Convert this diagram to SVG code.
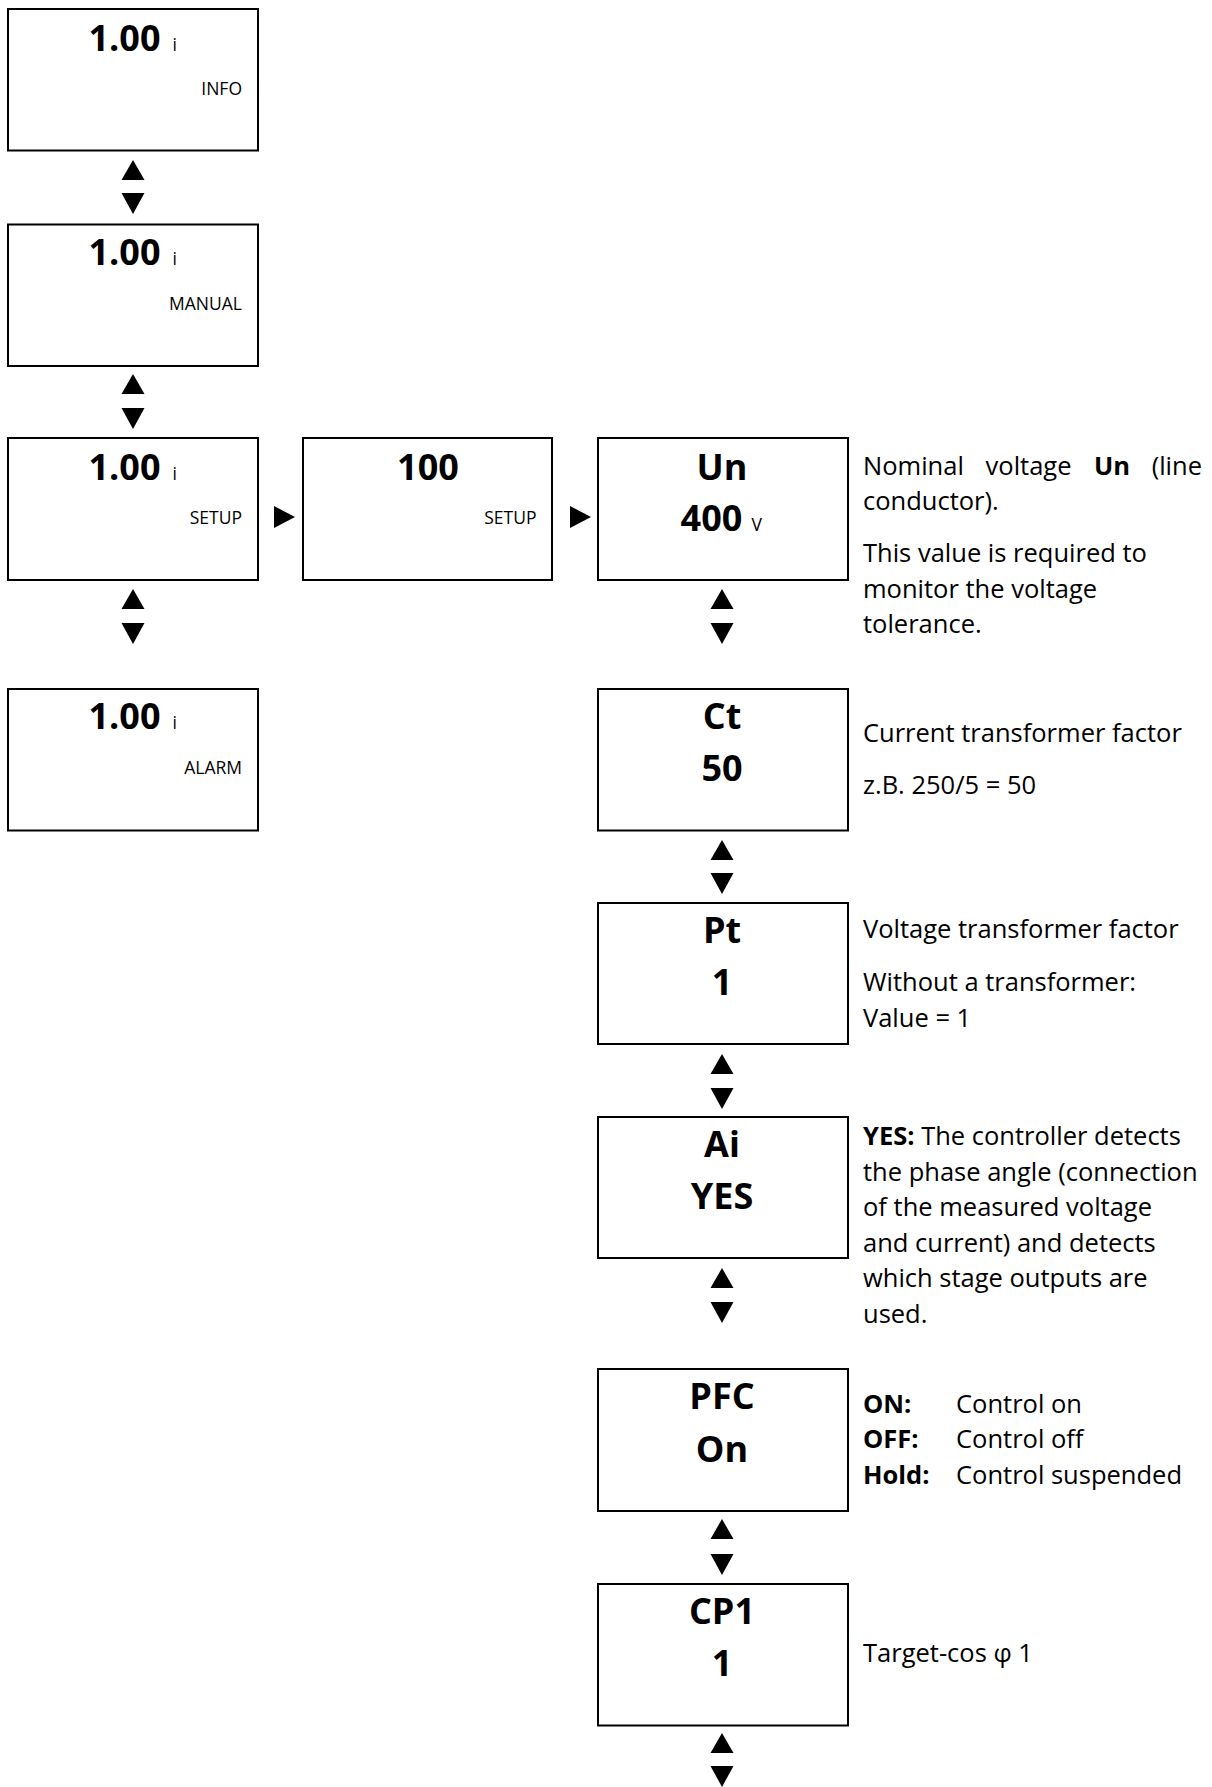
<svg xmlns="http://www.w3.org/2000/svg" width="1212" height="1787" viewBox="0 0 1212 1787">
<style>
.box{fill:#fff;stroke:#000;stroke-width:2}
text{font-family:"Open Sans","Noto Sans","DejaVu Sans",sans-serif;fill:#000}
.big{font-weight:700;font-size:36px}
.sm{font-size:17.5px}
.d{font-size:25.5px}
.b{font-weight:700}
.mid{text-anchor:middle}
.end{text-anchor:end}
.tri{fill:#000}
</style>
<defs>
<path id="up" class="tri" d="M-11.5,20 L0,0 L11.5,20 Z"/>
<path id="down" class="tri" d="M-11.5,0 L11.5,0 L0,21 Z"/>
<path id="right" class="tri" d="M0,0 L0,22 L21,11 Z"/>
</defs>
<rect width="1212" height="1787" fill="#fff"/>

<g id="connectors">
<use href="#up" x="133" y="160"/><use href="#down" x="133" y="193"/>
<use href="#up" x="133" y="374"/><use href="#down" x="133" y="408"/>
<use href="#up" x="133" y="589"/><use href="#down" x="133" y="623"/>
<use href="#right" x="274" y="506"/>
<use href="#right" x="570" y="506"/>
<use href="#up" x="722" y="589"/><use href="#down" x="722" y="623"/>
<use href="#up" x="722" y="840"/><use href="#down" x="722" y="873"/>
<use href="#up" x="722" y="1054"/><use href="#down" x="722" y="1088"/>
<use href="#up" x="722" y="1268"/><use href="#down" x="722" y="1302"/>
<use href="#up" x="722" y="1519"/><use href="#down" x="722" y="1554"/>
<use href="#up" x="722" y="1733"/><use href="#down" x="722" y="1766"/>
</g>

<g id="node-info">
<rect class="box" x="8" y="9" width="250" height="141.5"/>
<text class="big mid" x="124.5" y="50.5">1.00</text>
<text class="sm" x="172.5" y="50.5">i</text>
<text class="sm end" x="242" y="95">INFO</text>
</g>
<g id="node-manual">
<rect class="box" x="8" y="224.5" width="250" height="141.5"/>
<text class="big mid" x="124.5" y="265">1.00</text>
<text class="sm" x="172.5" y="265">i</text>
<text class="sm end" x="242" y="310">MANUAL</text>
</g>
<g id="node-setup">
<rect class="box" x="8" y="438" width="250" height="142"/>
<text class="big mid" x="124.5" y="479.5">1.00</text>
<text class="sm" x="172.5" y="479.5">i</text>
<text class="sm end" x="242" y="524">SETUP</text>
</g>
<g id="node-alarm">
<rect class="box" x="8" y="689" width="250" height="141.5"/>
<text class="big mid" x="124.5" y="729">1.00</text>
<text class="sm" x="172.5" y="729">i</text>
<text class="sm end" x="242" y="774">ALARM</text>
</g>
<g id="node-setup-100">
<rect class="box" x="303" y="438" width="249" height="142"/>
<text class="big mid" x="428" y="479.5">100</text>
<text class="sm end" x="536.5" y="524">SETUP</text>
</g>
<g id="node-un">
<rect class="box" x="598" y="438" width="250" height="142"/>
<text class="big mid" x="722" y="479.5">Un</text>
<text class="big mid" x="711.5" y="531">400</text>
<text class="sm" x="751.5" y="531">V</text>
</g>
<g id="node-ct">
<rect class="box" x="598" y="689" width="250" height="141.5"/>
<text class="big mid" x="722" y="729">Ct</text>
<text class="big mid" x="722" y="781">50</text>
</g>
<g id="node-pt">
<rect class="box" x="598" y="903" width="250" height="141"/>
<text class="big mid" x="722" y="943">Pt</text>
<text class="big mid" x="722" y="994.5">1</text>
</g>
<g id="node-ai">
<rect class="box" x="598" y="1117" width="250" height="141"/>
<text class="big mid" x="722" y="1157">Ai</text>
<text class="big mid" x="722" y="1208.5">YES</text>
</g>
<g id="node-pfc">
<rect class="box" x="598" y="1369" width="250" height="142"/>
<text class="big mid" x="722" y="1408.5">PFC</text>
<text class="big mid" x="722" y="1461.5">On</text>
</g>
<g id="node-cp1">
<rect class="box" x="598" y="1584" width="250" height="141.5"/>
<text class="big mid" x="722" y="1624">CP1</text>
<text class="big mid" x="722" y="1676">1</text>
</g>

<g id="desc-un">
<text class="d" x="863" y="474.5">Nominal</text>
<text class="d" x="985.6" y="474.5">voltage</text>
<text class="d b" x="1094" y="474.5">Un</text>
<text class="d end" x="1202" y="474.5">(line</text>
<text class="d" x="863" y="510">conductor).</text>
<text class="d" x="863" y="562">This value is required to</text>
<text class="d" x="863" y="597.5">monitor the voltage</text>
<text class="d" x="863" y="633">tolerance.</text>
</g>
<g id="desc-ct">
<text class="d" x="863" y="742">Current transformer factor</text>
<text class="d" x="863" y="794">z.B. 250/5 = 50</text>
</g>
<g id="desc-pt">
<text class="d" x="863" y="938">Voltage transformer factor</text>
<text class="d" x="863" y="991">Without a transformer:</text>
<text class="d" x="863" y="1026.5">Value = 1</text>
</g>
<g id="desc-ai">
<text class="d" x="863" y="1145"><tspan class="b">YES:</tspan> The controller detects</text>
<text class="d" x="863" y="1180.5">the phase angle (connection</text>
<text class="d" x="863" y="1216">of the measured voltage</text>
<text class="d" x="863" y="1251.5">and current) and detects</text>
<text class="d" x="863" y="1287">which stage outputs are</text>
<text class="d" x="863" y="1322.5">used.</text>
</g>
<g id="desc-pfc">
<text class="d b" x="863" y="1412.5">ON:</text>
<text class="d" x="956" y="1412.5">Control on</text>
<text class="d b" x="863" y="1448">OFF:</text>
<text class="d" x="956" y="1448">Control off</text>
<text class="d b" x="863" y="1484">Hold:</text>
<text class="d" x="956" y="1484">Control suspended</text>
</g>
<g id="desc-cp1">
<text class="d" x="863" y="1662">Target-cos φ 1</text>
</g>
</svg>
